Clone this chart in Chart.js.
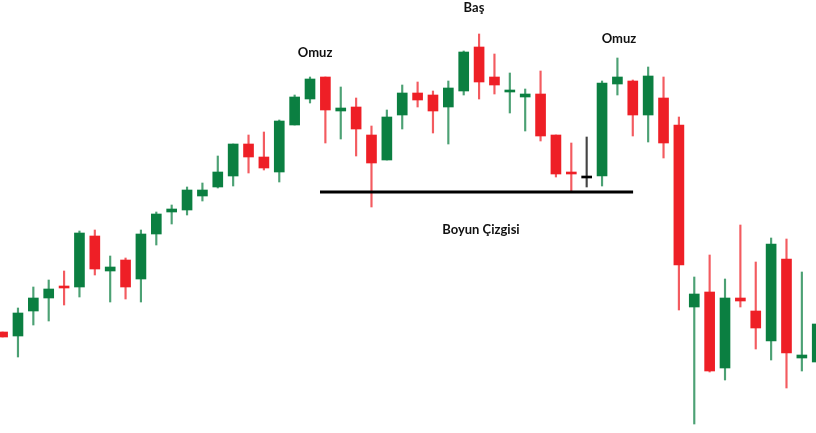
<!DOCTYPE html>
<html>
<head>
<meta charset="utf-8">
<script src="https://cdn.jsdelivr.net/npm/chart.js@4/dist/chart.umd.min.js"></script>
<style>
  html, body { margin: 0; padding: 0; background: #ffffff; }
  #wrap { width: 816px; height: 433px; position: relative; }
</style>
</head>
<body>
<div id="wrap"><canvas id="c"></canvas></div>
<script>
// ---- data (price units) ----
const sessions = Array.from({length: 54}, (_, i) => i + 1);
const openP  = [118,114,139,152,164,163,214,179,190,171,216,238,240,254,263,274,306,293,278,325,351,373,339,343,315,290,335,357,355,343,359,403,373,358,353,356,315,278,273,274,366,369,335,352,325,143,158,82,152,139,109,191,92,88];
const highP  = [118,142,163,170,179,219,220,194,192,220,238,245,263,267,294,306,315,318,330,355,373,373,363,352,324,340,365,368,359,369,399,416,396,377,361,379,315,307,313,369,392,370,383,373,333,173,195,171,225,188,212,211,178,126];
const lowP   = [113, 93,125,129,145,153,175,148,151,148,205,226,235,249,262,264,277,280,268,325,347,307,311,294,243,290,321,343,317,306,355,351,356,337,319,309,273,258,263,264,355,314,308,292,140, 26, 78, 70,143,101, 90, 62, 79, 88];
const closeP = [113,137,152,161,162,217,181,183,163,216,236,241,260,260,278,306,293,282,329,353,371,340,342,321,287,333,357,350,339,362,398,368,365,360,356,314,276,276,273,367,373,335,374,307,185,156, 79,152,149,122,206, 97, 95,126];
const necklineLevel = 258;
const necklineSpan = [21.65, 42.02];
const annotations = [
  {text: "Omuz", x: 21.33, y: 397},
  {text: "Baş", x: 31.67, y: 442},
  {text: "Omuz", x: 41.1, y: 411},
  {text: "Boyun Çizgisi", x: 32.12, y: 220}
];

const GREEN = '#0b7f41', RED = '#ee1f26', NEUTRAL = '#000000';
const colorOf = i => closeP[i] > openP[i] ? GREEN : (closeP[i] < openP[i] ? RED : NEUTRAL);
const colors = sessions.map((_, i) => colorOf(i));
const bodies = sessions.map((s, i) => {
  const lo = Math.min(openP[i], closeP[i]), hi = Math.max(openP[i], closeP[i]);
  return {x: s, y: hi - lo < 2 ? [lo - 1, lo + 1] : [lo, hi]};
});
const wicks = sessions.map((s, i) => ({x: s, y: [lowP[i], highP[i]]}));

const labelPlugin = {
  id: 'labels',
  afterDraw(chart) {
    const {ctx, scales} = chart;
    ctx.save();
    ctx.font = 'bold 13px Lato, "Liberation Sans", sans-serif';
    ctx.fillStyle = '#111111';
    ctx.textAlign = 'center';
    ctx.textBaseline = 'middle';
    annotations.forEach(a => {
      ctx.fillText(a.text, scales.x.getPixelForValue(a.x), scales.y.getPixelForValue(a.y));
    });
    ctx.restore();
  }
};

new Chart(document.getElementById('c'), {
  data: {
    datasets: [
      {type: 'line', data: necklineSpan.map(x => ({x, y: necklineLevel})), borderColor: '#000', borderWidth: 3, pointRadius: 0, order: 0},
      {type: 'bar', data: bodies, backgroundColor: colors, barThickness: 10, grouped: false, borderWidth: 0, order: 1},
      {type: 'bar', data: wicks, backgroundColor: colors.map(c => c + 'bb'), barThickness: 1.5, grouped: false, borderWidth: 0, order: 2}
    ]
  },
  options: {
    responsive: true,
    maintainAspectRatio: false,
    animation: false,
    devicePixelRatio: 1,
    layout: {padding: 0},
    plugins: {legend: {display: false}, tooltip: {enabled: false}},
    scales: {
      x: {type: 'linear', min: 0.831, max: 53.92, offset: false, display: false},
      y: {type: 'linear', min: 17, max: 450, display: false}
    }
  },
  plugins: [labelPlugin]
});
</script>
</body>
</html>
